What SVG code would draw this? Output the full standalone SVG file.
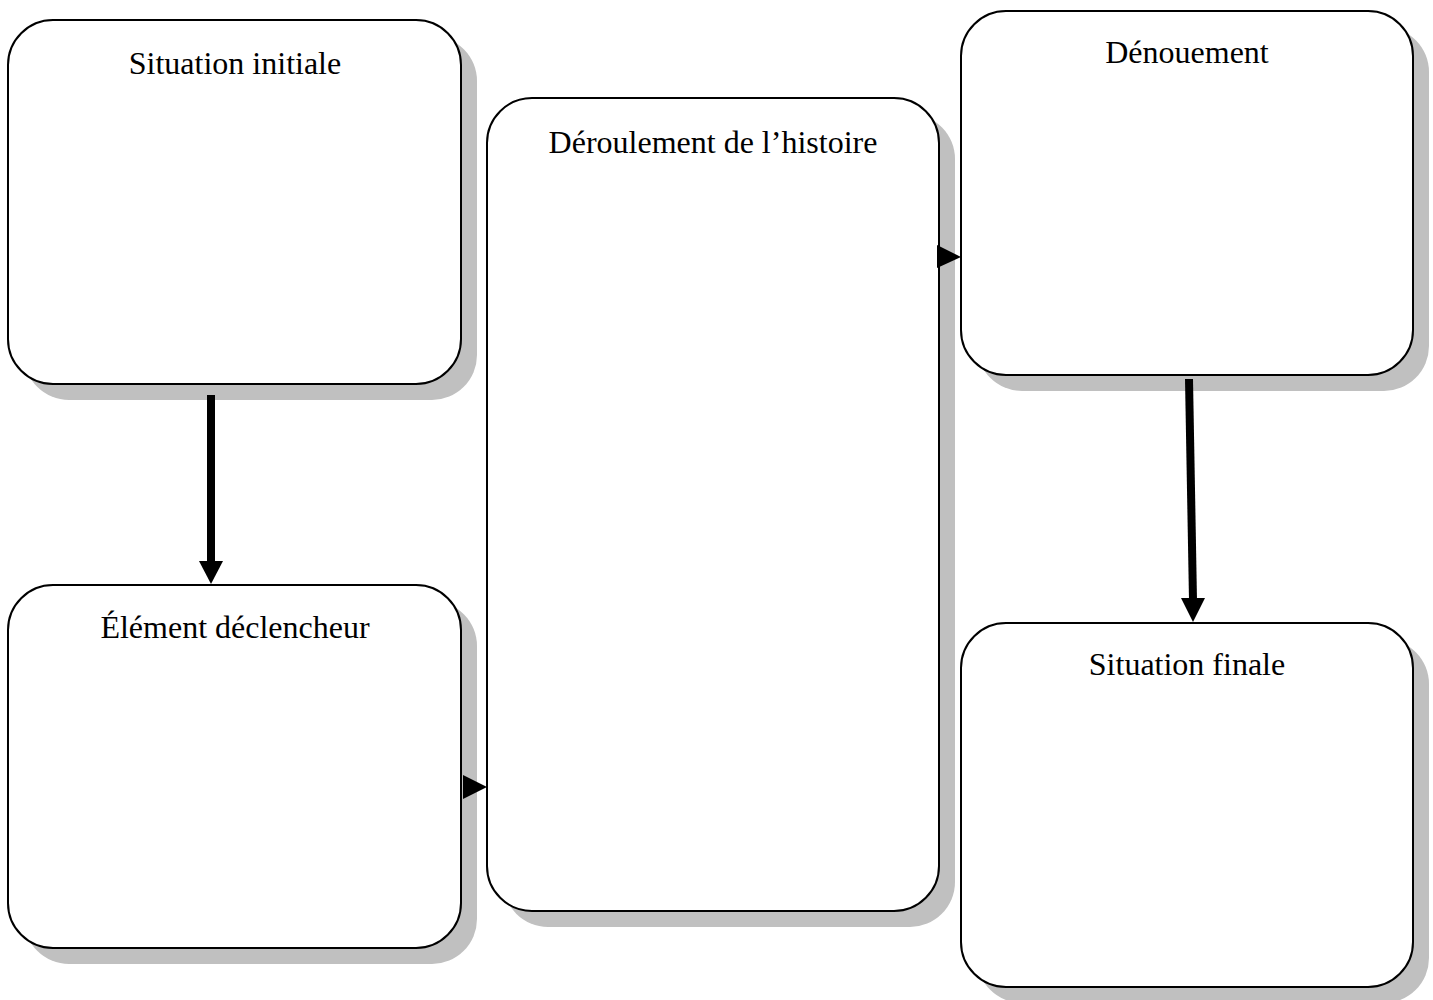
<svg xmlns="http://www.w3.org/2000/svg" width="1433" height="1000" viewBox="0 0 1433 1000">
<style>
.shadow{fill:#c0c0c0;stroke:none}
.box{fill:#fff;stroke:#000;stroke-width:2}
.lbl{font-family:"Liberation Serif","Times New Roman",serif;font-size:32px;fill:#000;text-anchor:middle}
.conn{stroke:#000;stroke-width:8;fill:none}
.head{fill:#000;stroke:none}
</style>
<rect width="1433" height="1000" fill="#fff"/>
<g id="node-situation-initiale">
<rect class="shadow" x="24" y="36" width="453" height="364" rx="45"/>
<rect class="box" x="8" y="20" width="453" height="364" rx="45"/>
<text class="lbl" x="235" y="74">Situation initiale</text>
</g>
<g id="node-element-declencheur">
<rect class="shadow" x="24" y="601" width="453" height="363" rx="45"/>
<rect class="box" x="8" y="585" width="453" height="363" rx="45"/>
<text class="lbl" x="235" y="638">Élément déclencheur</text>
</g>
<g id="node-deroulement">
<rect class="shadow" x="503" y="114" width="452" height="813" rx="45"/>
<rect class="box" x="487" y="98" width="452" height="813" rx="45"/>
<text class="lbl" x="713" y="153">Déroulement de l’histoire</text>
</g>
<g id="node-denouement">
<rect class="shadow" x="977" y="27" width="452" height="364" rx="45"/>
<rect class="box" x="961" y="11" width="452" height="364" rx="45"/>
<text class="lbl" x="1187" y="63">Dénouement</text>
</g>
<g id="node-situation-finale">
<rect class="shadow" x="977" y="639" width="452" height="364" rx="45"/>
<rect class="box" x="961" y="623" width="452" height="364" rx="45"/>
<text class="lbl" x="1187" y="675">Situation finale</text>
</g>
<g id="connectors">
<line class="conn" x1="211" y1="395" x2="211" y2="563"/>
<polygon class="head" points="199,561 223,561 211,584"/>
<line class="conn" x1="1189" y1="379" x2="1193" y2="600"/>
<polygon class="head" points="1181,598 1205,598 1193,622"/>
<polygon class="head" points="463,775 487,787 463,799"/>
<polygon class="head" points="937,245 961,257 937,268"/>
</g>
</svg>
